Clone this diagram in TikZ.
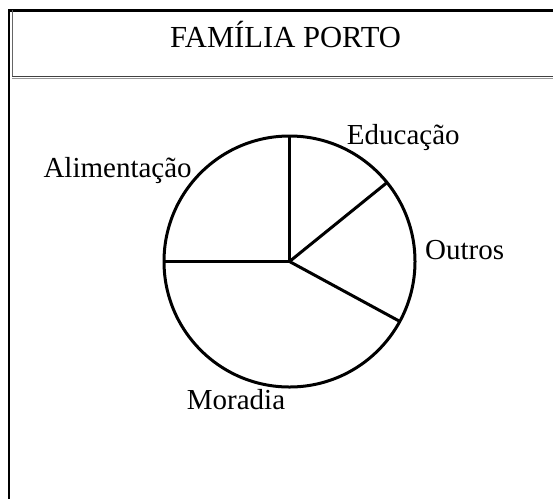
\documentclass[tikz,border=0pt]{standalone}
\usepackage{fontspec}
\setmainfont{Liberation Serif}
\begin{document}
\begin{tikzpicture}
	[x=1pt,y=-1pt,
	 lbl/.style={font=\fontsize{29}{34}\selectfont,inner sep=0pt,anchor=base west},
	 pie/.style={line width=3pt},
	 frame/.style={line width=2.2pt}]
    \useasboundingbox (0,0) rectangle (553,499);

    % frame and header
    \draw[frame,line width=3pt] (8,10) -- (553,10);
    \draw[frame] (9,9) -- (9,499);
    \draw[black!60,line width=1pt] (12.5,10) -- (12.5,77);
    \draw[black!75,line width=1.6pt] (12,76.6) -- (553,76.6);
    \draw[black!40,line width=0.8pt] (12,78.4) -- (553,78.4);
    \node[lbl,font=\fontsize{30.6}{36}\selectfont] (title) at (170,47.7) {FAMÍLIA PORTO};

    % pie chart
    \coordinate (c) at (289.5,261.5);
    \draw[pie] (c) circle (125.5);
    \draw[pie] (c) -- +(-90:125.5);
    \draw[pie] (c) -- +(180:125.5);
    \draw[pie] (c) -- +(-39:125.5);
    \draw[pie] (c) -- +(28.5:125.5);

    \node[lbl] (alim) at (43.3,177.7) {Alimentação};
    \node[lbl] (educ) at (346.7,144.3) {Educação};
    \node[lbl] (outros) at (425,259.3) {Outros};
    \node[lbl] (moradia) at (186.7,409.3) {Moradia};

\end{tikzpicture}
\end{document}
